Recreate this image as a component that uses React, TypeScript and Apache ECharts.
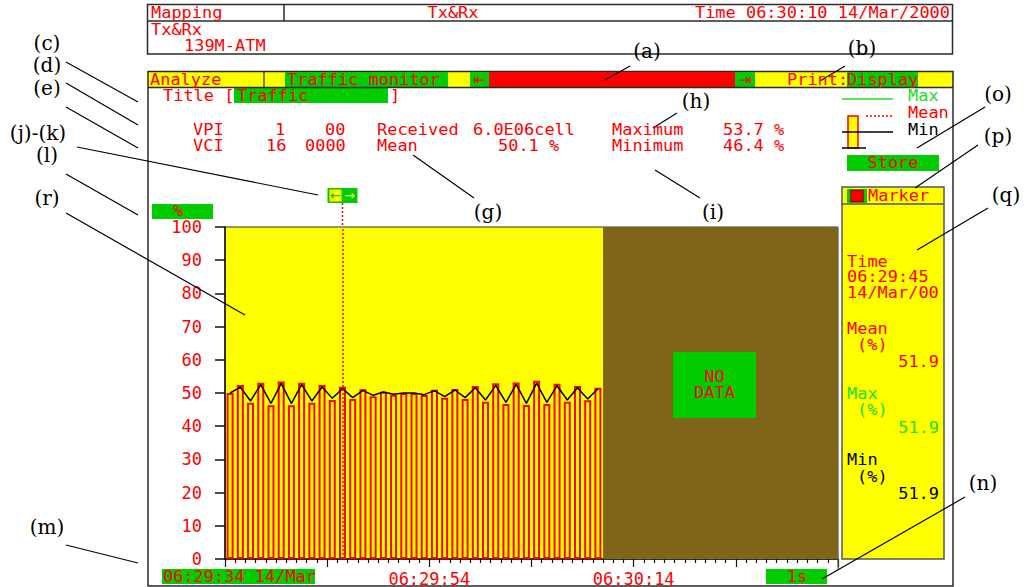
import React, { useEffect, useRef } from "react";
import * as echarts from "echarts";

// ---------- data ----------
const startSecond = 6 * 3600 + 29 * 60 + 34; // 06:29:34
const spanSeconds = 60;
const pad2 = (n: number) => String(n).padStart(2, "0");
const categories: string[] = Array.from({ length: spanSeconds }, (_, i) => {
  const t = startSecond + i;
  return `${pad2(Math.floor(t / 3600))}:${pad2(Math.floor((t % 3600) / 60))}:${pad2(t % 60)}`;
});

// traffic (%) per second (bars)
const barValues = [
  50.0, 52.4, 47.1, 53.1, 46.3, 53.5, 46.3, 53.1, 47.1, 52.4,
  47.9, 51.9, 48.2, 51.1, 49.0, 50.4, 49.5, 50.0, 50.0, 49.4,
  51.0, 48.6, 51.2, 48.2, 52.1, 47.4, 52.9, 46.7, 53.2, 46.4,
  53.7, 46.7, 52.8, 47.4, 52.1, 47.8, 51.6,
];
// mean curve (black line)
const meanValues = [
  50.0, 51.8, 47.6, 52.5, 46.9, 52.9, 46.9, 52.5, 47.6, 51.8,
  48.4, 51.3, 48.6, 50.8, 49.3, 50.3, 49.6, 50.0, 50.0, 49.5,
  50.7, 48.9, 50.9, 48.6, 51.6, 47.9, 52.3, 47.2, 52.6, 46.9,
  53.0, 47.2, 52.2, 47.9, 51.6, 48.2, 51.3,
];
const markerIndex = 11;

const xTickValues = [20, 40];
const xTickLabels = ["06:29:54", "06:30:14"];
const startLabel = "06:29:34 14/Mar";
const resolutionLabel = "1s";

// ---------- styles ----------
const MONO = '"DejaVu Sans Mono", "Liberation Mono", monospace';
const SERIF = '"DejaVu Serif", "Liberation Serif", serif';
const RED = "#ff0000";
const GREEN = "#00cc00";
const YELLOW = "#ffff00";
const LGREEN = "#22dd22";
const FRAME = "#2a2a2a";
const NODATA = "#7f641a";
const CHAR_W = 10.2;

function txt(x: number, y: number, text: string, fill: string, opts: any = {}) {
  const family = opts.family || MONO;
  const size = opts.size || 15;
  const isMono = family === MONO;
  return {
    type: "text",
    x,
    y,
    z: 30,
    silent: true,
    scaleX: isMono ? CHAR_W / (size * 0.602) : 1,
    style: {
      text,
      fill,
      font: `${size}px ${family}`,
      lineHeight: opts.lh || size,
      textAlign: opts.align || "left",
      textVerticalAlign: "middle",
    },
  };
}
function rect(x: number, y: number, w: number, h: number, fill: string, stroke?: string, lw = 1, z = 10) {
  return {
    type: "rect",
    z,
    silent: true,
    shape: { x, y, width: w, height: h },
    style: { fill, stroke: stroke || null, lineWidth: lw },
  };
}
function seg(x1: number, y1: number, x2: number, y2: number, stroke: string, lw = 1.2, dash?: number[]) {
  return {
    type: "line",
    z: 25,
    silent: true,
    shape: { x1, y1, x2, y2 },
    style: { stroke, lineWidth: lw, lineDash: dash || null },
  };
}

// callout annotations (label, label centre, pointer line)
const callouts: [string, number, number, number[] | null][] = [
  ["(a)", 647, 51, [630, 66, 605, 80]],
  ["(b)", 862, 48, [845, 66, 820, 81]],
  ["(c)", 47, 43, [66, 62, 138, 102]],
  ["(d)", 47, 65, [66, 83, 138, 125]],
  ["(e)", 47, 88, [66, 107, 138, 148]],
  ["(j)-(k)", 38, 133, [77, 147, 318, 195]],
  ["(l)", 47, 155, [66, 174, 138, 215]],
  ["(r)", 47, 198, [66, 213, 245, 315]],
  ["(m)", 47, 527, [66, 545, 138, 563]],
  ["(g)", 488, 212, [413, 155, 474, 198]],
  ["(h)", 696, 101, [677, 113, 653, 128]],
  ["(i)", 713, 212, [655, 170, 700, 198]],
  ["(o)", 998, 94, [985, 107, 917, 148]],
  ["(p)", 998, 136, [978, 145, 915, 188]],
  ["(q)", 1006, 195, [988, 208, 917, 250]],
  ["(n)", 983, 483, [965, 497, 822, 579]],
];

function staticGraphics(): any[] {
  const g: any[] = [];
  // header box
  g.push(rect(147.5, 4.5, 805, 49.5, "none", FRAME, 1.5));
  g.push(seg(147.5, 21, 952.5, 21, FRAME, 1.5));
  g.push(seg(284, 4.5, 284, 21, FRAME, 1.5));
  g.push(txt(151, 12.5, "Mapping", RED));
  g.push(txt(453, 12.5, "Tx&Rx", RED, { align: "center" }));
  g.push(txt(950, 12.5, "Time 06:30:10 14/Mar/2000", RED, { align: "right" }));
  g.push(txt(151, 30, "Tx&Rx", RED));
  g.push(txt(184, 45.5, "139M-ATM", RED));

  // main box + toolbar
  g.push(rect(148, 71.5, 805, 16, YELLOW, undefined, 1, 5));
  g.push(rect(148, 71.5, 805, 514.5, "none", FRAME, 1.5));
  g.push(seg(148, 87.5, 953, 87.5, FRAME, 1.5));
  g.push(seg(264, 71.5, 264, 87.5, FRAME, 1.2));
  g.push(txt(150, 79.5, "Analyze", RED));
  g.push(rect(285, 72, 163, 15, GREEN));
  g.push(txt(287, 79.5, "Traffic monitor", RED));
  g.push(rect(470, 72, 19, 15, GREEN));
  g.push(txt(479.5, 79.5, "⇤", RED, { size: 15, family: '"DejaVu Sans", sans-serif', align: "center" }));
  g.push(rect(489, 72, 246, 15, RED));
  g.push(rect(735, 72, 20, 15, GREEN));
  g.push(txt(745, 79.5, "⇥", RED, { size: 15, family: '"DejaVu Sans", sans-serif', align: "center" }));
  g.push(txt(787, 79.5, "Print:", RED));
  g.push(rect(847, 72, 71, 15, GREEN));
  g.push(txt(847, 79.5, "Display", RED));

  // title
  g.push(txt(163, 96, "Title [", RED));
  g.push(rect(234, 88, 154, 15, GREEN));
  g.push(txt(237, 96, "Traffic", RED));
  g.push(txt(390, 96, "]", RED));

  // stats
  const r1 = 129.5, r2 = 146;
  g.push(txt(193, r1, "VPI", RED));
  g.push(txt(275, r1, "1", RED));
  g.push(txt(325, r1, "00", RED));
  g.push(txt(377, r1, "Received", RED));
  g.push(txt(473, r1, "6.0E06cell", RED));
  g.push(txt(612, r1, "Maximum", RED));
  g.push(txt(723, r1, "53.7 %", RED));
  g.push(txt(193, r2, "VCI", RED));
  g.push(txt(266, r2, "16", RED));
  g.push(txt(305, r2, "0000", RED));
  g.push(txt(377, r2, "Mean", RED));
  g.push(txt(498, r2, "50.1 %", RED));
  g.push(txt(612, r2, "Minimum", RED));
  g.push(txt(723, r2, "46.4 %", RED));

  // legend
  g.push(seg(842, 99, 893, 99, LGREEN, 1.5));
  g.push(txt(908, 96, "Max", LGREEN));
  g.push(seg(866, 116, 893, 116, RED, 1.5, [2, 2]));
  g.push(txt(908, 113, "Mean", RED));
  g.push(rect(848, 116, 10, 32, YELLOW, RED, 1.5, 20));
  g.push(seg(842, 132, 893, 132, "#000", 1.5));
  g.push(txt(908, 130, "Min", "#000"));
  g.push(seg(842, 148, 866, 148, "#000", 1.5));
  g.push(rect(847, 155, 92, 16, GREEN));
  g.push(txt(893, 163, "Store", RED, { align: "center" }));

  // marker panel
  g.push(rect(842, 187, 102, 372, YELLOW, "#555", 1.5));
  g.push(seg(842, 204, 944, 204, "#555", 1.5));
  g.push(rect(847, 189, 20, 14, GREEN, undefined, 1, 20));
  g.push(rect(851, 190.5, 12, 11, RED, "#aa0000", 1.5, 21));
  g.push(txt(868, 196, "Marker", RED));
  g.push(txt(847, 261.5, "Time", RED));
  g.push(txt(847, 277, "06:29:45", RED));
  g.push(txt(847, 292.5, "14/Mar/00", RED));
  g.push(txt(847, 329, "Mean", RED));
  g.push(txt(857, 345, "(%)", RED));
  g.push(txt(939, 362, "51.9", RED, { align: "right" }));
  g.push(txt(847, 394, "Max", LGREEN));
  g.push(txt(857, 410, "(%)", LGREEN));
  g.push(txt(939, 428, "51.9", LGREEN, { align: "right" }));
  g.push(txt(847, 460, "Min", "#000"));
  g.push(txt(857, 477, "(%)", "#000"));
  g.push(txt(939, 494, "51.9", "#000", { align: "right" }));

  // y unit box
  g.push(rect(152, 204, 61, 15, GREEN));
  g.push(txt(178, 211, "%", RED, { align: "center" }));

  // x axis boxes
  g.push(rect(162, 569, 153, 15, GREEN));
  g.push(txt(163, 577, startLabel, RED));
  g.push(rect(766, 569, 61, 15, GREEN));
  g.push(txt(797, 577, resolutionLabel, RED, { align: "center" }));
  g.push(seg(838, 559, 838, 569, "#555", 1.2));

  // NO DATA box
  g.push(rect(673, 352, 83, 66, GREEN, undefined, 1, 12));
  g.push(txt(714.5, 377, "NO", RED, { align: "center" }));
  g.push(txt(714.5, 393, "DATA", RED, { align: "center" }));

  // callouts
  for (const [label, x, y, ln] of callouts) {
    g.push(txt(x, y, label, "#000", { size: 20, family: SERIF, align: "center", lh: 20 }));
    if (ln) g.push(seg(ln[0], ln[1], ln[2], ln[3], "#000", 1.2));
  }
  return g;
}

function markerGraphics(mx: number): any[] {
  return [
    seg(mx, 203, mx, 227, RED, 1.5, [2, 2]),
    rect(mx - 15, 188, 30, 15, GREEN, undefined, 1, 20),
    rect(mx - 13, 189.5, 12, 12, YELLOW, undefined, 1, 21),
    txt(mx - 7, 195.5, "←", "#22aa22", { size: 13, family: '"DejaVu Sans", sans-serif', align: "center" }),
    txt(mx + 7, 195.5, "→", "#ffff66", { size: 13, family: '"DejaVu Sans", sans-serif', align: "center" }),
  ];
}

export default function App() {
  const ref = useRef<HTMLDivElement>(null);
  useEffect(() => {
    const chart = echarts.init(ref.current!, null, { renderer: "svg", width: 1027, height: 587 });
    chart.setOption({
      animation: false,
      backgroundColor: "#ffffff",
      grid: {
        left: 225,
        top: 227,
        width: 613,
        height: 332,
        show: true,
        backgroundColor: YELLOW,
        borderColor: "#333",
        borderWidth: 1,
      },
      xAxis: [
        {
          type: "category",
          position: "bottom",
          data: categories,
          show: false,
          boundaryGap: true,
        },
        {
          type: "value",
          position: "bottom",
          min: 0,
          max: spanSeconds,
          interval: 10,
          axisLine: { show: true, lineStyle: { color: "#111", width: 1.5 } },
          axisTick: { show: true, length: 8, lineStyle: { color: "#111", width: 1.2 } },
          minorTick: { show: true, splitNumber: 10, length: 4, lineStyle: { color: "#111", width: 1.2 } },
          splitLine: { show: false },
          axisLabel: {
            color: RED,
            fontFamily: MONO,
            fontSize: 17,
            margin: 11,
            formatter: (v: number) => {
              const i = xTickValues.indexOf(v);
              return i >= 0 ? xTickLabels[i] : "";
            },
          },
        },
      ],
      yAxis: {
        type: "value",
        min: 0,
        max: 100,
        interval: 10,
        axisLine: { show: true, lineStyle: { color: "#111", width: 1.5 } },
        axisTick: { show: true, length: 10, lineStyle: { color: "#111", width: 1.5 } },
        splitLine: { show: false },
        axisLabel: { color: RED, fontFamily: MONO, fontSize: 17, lineHeight: 14, margin: 23 },
      },
      series: [
        {
          type: "line",
          xAxisIndex: 1,
          yAxisIndex: 0,
          data: [],
          silent: true,
          markArea: {
            silent: true,
            itemStyle: { color: NODATA },
            data: [[{ xAxis: barValues.length }, { xAxis: spanSeconds }]],
          },
        },
        {
          type: "bar",
          xAxisIndex: 0,
          yAxisIndex: 0,
          data: barValues,
          barWidth: 7,
          z: 2,
          silent: true,
          itemStyle: { color: YELLOW, borderColor: RED, borderWidth: 2 },
          markLine: {
            silent: true,
            symbol: "none",
            label: { show: false },
            lineStyle: { color: RED, type: [2, 2], width: 1.5 },
            data: [{ xAxis: categories[markerIndex] }],
          },
        },
        {
          type: "line",
          xAxisIndex: 0,
          yAxisIndex: 0,
          data: meanValues,
          showSymbol: false,
          symbol: "none",
          z: 3,
          silent: true,
          lineStyle: { color: "#000", width: 1.5 },
        },
      ],
    });
    const mx = chart.convertToPixel({ xAxisIndex: 0 }, categories[markerIndex]) as number;
    chart.setOption({ graphic: [...staticGraphics(), ...markerGraphics(mx)] });
    return () => chart.dispose();
  }, []);
  return (
    <div
      ref={ref}
      style={{ position: "fixed", left: 0, top: 0, width: 1027, height: 587, background: "#fff" }}
    />
  );
}
